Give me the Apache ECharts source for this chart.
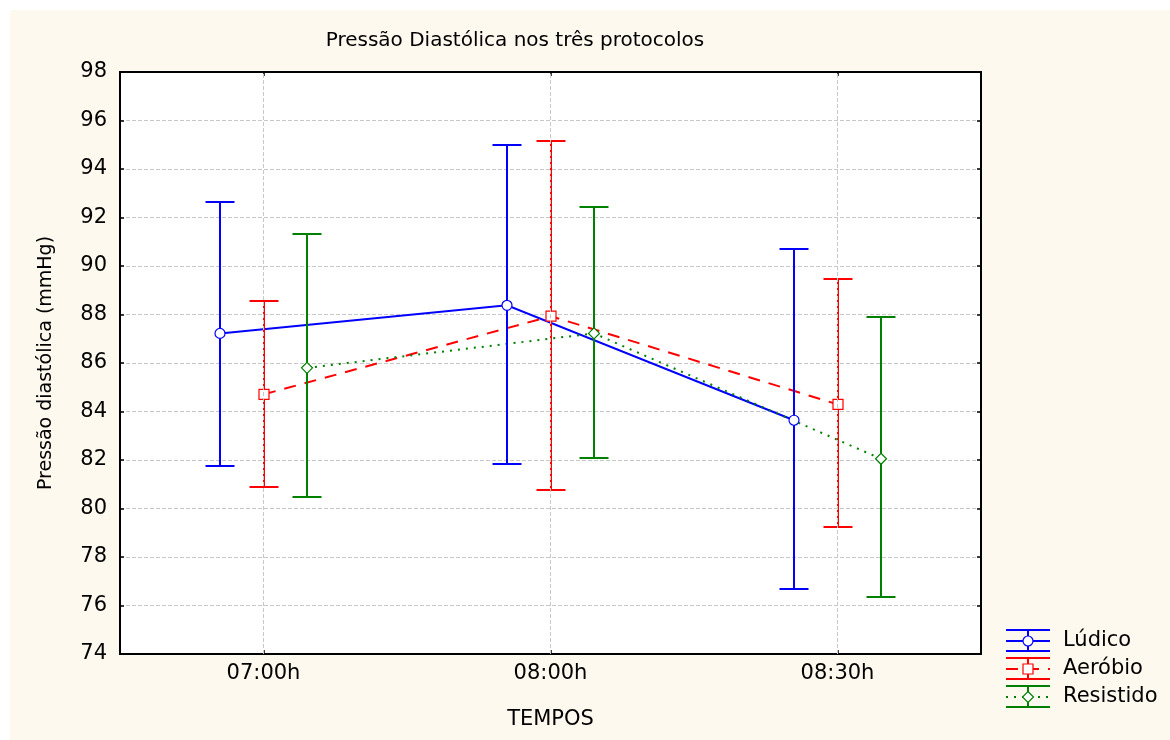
<!DOCTYPE html>
<html>
<head>
<meta charset="utf-8">
<script src="https://cdn.jsdelivr.net/npm/echarts@6/dist/echarts.min.js"></script>
<style>
  html, body { margin: 0; padding: 0; background: #ffffff; }
  #chart { position: absolute; left: 10px; top: 10px; width: 1160px; height: 730px; }
</style>
</head>
<body>
<div id="chart"></div>
<script>
/*
 * Pressão diastólica: média com barras de erro nos três protocolos
 */

// 时间点
var categories = ["07:00h", "08:00h", "08:30h"];
var yTicks = { min: 74, max: 98, step: 2 };

// Lúdico
var ludicoMean = [87.22, 88.38, 83.64];
var ludicoLow = [81.77, 81.84, 76.69];
var ludicoHigh = [92.64, 94.98, 90.72];

// Aeróbio
var aerobioMean = [84.71, 87.93, 84.29];
var aerobioLow = [80.87, 80.77, 79.22];
var aerobioHigh = [88.55, 95.14, 89.45];

// Resistido
var resistidoMean = [85.8, 87.22, 82.05];
var resistidoLow = [80.46, 82.08, 76.37];
var resistidoHigh = [91.34, 92.44, 87.91];

var FONT = "DejaVu Sans";

var groups = [
  { name: "Lúdico", color: "#0000ff", dash: "solid", symbol: "circle", offset: -0.15,
    mean: ludicoMean, low: ludicoLow, high: ludicoHigh },
  { name: "Aeróbio", color: "#ff0000", dash: [12, 9], symbol: "square", offset: 0,
    mean: aerobioMean, low: aerobioLow, high: aerobioHigh },
  { name: "Resistido", color: "#008000", dash: [2, 6], symbol: "diamond", offset: 0.15,
    mean: resistidoMean, low: resistidoLow, high: resistidoHigh }
];

/**
 * 标记符号
 */
function markerShape(symbol, x, y, color) {
  var style = { fill: "#ffffff", stroke: color, lineWidth: 1.2 };
  if (symbol === "circle") {
    return { type: "circle", shape: { cx: x, cy: y, r: 5 }, style: style };
  }
  if (symbol === "square") {
    return { type: "rect", shape: { x: x - 5, y: y - 5, width: 10, height: 10 }, style: style };
  }
  return {
    type: "polygon",
    shape: { points: [[x, y - 5.5], [x + 5.5, y], [x, y + 5.5], [x - 5.5, y]] },
    style: style
  };
}

/**
 * 误差棒 (竖线 + 上下横线 + 标记)
 */
function errorBarRender(g) {
  return function (params, api) {
    var idx = api.value(0);
    var band = api.size([1, 0])[0];
    var x = Math.round(api.coord([idx, api.value(1)])[0] + band * g.offset);
    var yMid = api.coord([idx, api.value(1)])[1];
    var yLo = Math.round(api.coord([idx, api.value(2)])[1]);
    var yHi = Math.round(api.coord([idx, api.value(3)])[1]);
    var ls = { stroke: g.color, lineWidth: 2 };
    return {
      type: "group",
      children: [
        { type: "line", shape: { x1: x, y1: yHi, x2: x, y2: yLo }, style: ls },
        { type: "line", shape: { x1: x - 14.5, y1: yHi, x2: x + 14.5, y2: yHi }, style: ls },
        { type: "line", shape: { x1: x - 14.5, y1: yLo, x2: x + 14.5, y2: yLo }, style: ls },
        markerShape(g.symbol, x, yMid, g.color)
      ]
    };
  };
}

/**
 * 连接均值的折线
 */
function meanLineRender(g) {
  return function (params, api) {
    if (params.dataIndex !== 0) return null;
    var band = api.size([1, 0])[0];
    var pts = g.mean.map(function (v, i) {
      var p = api.coord([i, v]);
      return [Math.round(p[0] + band * g.offset), p[1]];
    });
    return {
      type: "polyline",
      shape: { points: pts },
      style: { stroke: g.color, lineWidth: 2, fill: null, lineDash: g.dash === "solid" ? null : g.dash }
    };
  };
}

var series = [];
groups.forEach(function (g, k) {
  var meanSeries = {
    type: "custom",
    name: g.name + "-linha",
    z: 2,
    silent: true,
    renderItem: meanLineRender(g),
    data: g.mean.map(function (v, i) { return [i, v]; }),
    encode: { x: 0, y: 1 }
  };
  if (k === 0) {
    meanSeries.markLine = {
      silent: true,
      symbol: "none",
      label: { show: false },
      lineStyle: { type: "dashed", color: "#c8c8c8", width: 1 },
      data: categories.map(function (c) { return { xAxis: c }; })
    };
  }
  series.push(meanSeries);
});
groups.forEach(function (g) {
  series.push({
    type: "custom",
    name: g.name,
    z: 3,
    silent: true,
    renderItem: errorBarRender(g),
    data: g.mean.map(function (v, i) { return [i, v, g.low[i], g.high[i]]; }),
    encode: { x: 0, y: [1, 2, 3] }
  });
});

/**
 * 图例 (用 graphic 画误差棒图标)
 */
function legendGraphic() {
  var out = [];
  var x0 = 996, x1 = 1040, xc = 1018;
  var tops = [620, 648, 676];
  groups.forEach(function (g, k) {
    var top = tops[k], mid = top + 11, bot = top + 21;
    var ls = { stroke: g.color, lineWidth: 2 };
    out.push({ type: "line", shape: { x1: x0, y1: top, x2: x1, y2: top }, style: ls });
    out.push({ type: "line", shape: { x1: x0, y1: bot, x2: x1, y2: bot }, style: ls });
    out.push({ type: "line", shape: { x1: xc, y1: top, x2: xc, y2: bot }, style: ls });
    out.push({
      type: "line",
      shape: { x1: x0, y1: mid, x2: x1, y2: mid },
      style: { stroke: g.color, lineWidth: 2, lineDash: g.dash === "solid" ? null : g.dash }
    });
    var m = markerShape(g.symbol, xc, mid, g.color);
    m.z = 10;
    out.push(m);
    out.push({
      type: "text",
      x: 1053,
      y: mid,
      style: { text: g.name, fill: "#000000", font: "21px '" + FONT + "'", textVerticalAlign: "middle" }
    });
  });
  return out;
}

var axisLineStyle = { color: "#000000", width: 2 };
var tickStyle = { show: true, inside: true, length: 4, lineStyle: { color: "#000000", width: 1.5 } };

var option = {
  backgroundColor: "#fef9ee",
  animation: false,
  title: {
    text: "Pressão Diastólica nos três protocolos",
    left: 500,
    top: 16,
    textAlign: "center",
    textStyle: { fontFamily: FONT, fontSize: 20, fontWeight: "normal", color: "#000000" }
  },
  grid: {
    left: 110, right: 189, top: 62, bottom: 86,
    show: true, backgroundColor: "#ffffff", borderColor: "#000000", borderWidth: 2
  },
  xAxis: [
    {
      type: "category",
      data: categories,
      position: "bottom",
      axisLine: { lineStyle: axisLineStyle },
      axisTick: Object.assign({ alignWithLabel: true }, tickStyle),
      axisLabel: { margin: 9, color: "#000000", fontFamily: FONT, fontSize: 21 },
      splitLine: { show: false },
      name: "TEMPOS",
      nameLocation: "middle",
      nameGap: 55,
      nameTextStyle: { color: "#000000", fontFamily: FONT, fontSize: 21 }
    },
    {
      type: "category",
      data: categories,
      position: "top",
      axisLine: { lineStyle: axisLineStyle },
      axisTick: Object.assign({ alignWithLabel: true }, tickStyle),
      axisLabel: { show: false },
      splitLine: { show: false }
    }
  ],
  yAxis: [
    {
      type: "value",
      min: yTicks.min,
      max: yTicks.max,
      interval: yTicks.step,
      position: "left",
      axisLine: { show: true, lineStyle: axisLineStyle },
      axisTick: tickStyle,
      axisLabel: { margin: 13, color: "#000000", fontFamily: FONT, fontSize: 21 },
      splitLine: { show: true, lineStyle: { type: "dashed", color: "#c8c8c8", width: 1 } },
      name: "Pressão diastólica (mmHg)",
      nameLocation: "middle",
      nameGap: 64,
      nameTextStyle: { color: "#000000", fontFamily: FONT, fontSize: 19 }
    },
    {
      type: "value",
      min: yTicks.min,
      max: yTicks.max,
      interval: yTicks.step,
      position: "right",
      axisLine: { show: true, lineStyle: axisLineStyle },
      axisTick: tickStyle,
      axisLabel: { show: false },
      splitLine: { show: false }
    }
  ],
  graphic: legendGraphic(),
  series: series
};

var myChart = echarts.init(document.getElementById("chart"));
myChart.setOption(option);
</script>
</body>
</html>
